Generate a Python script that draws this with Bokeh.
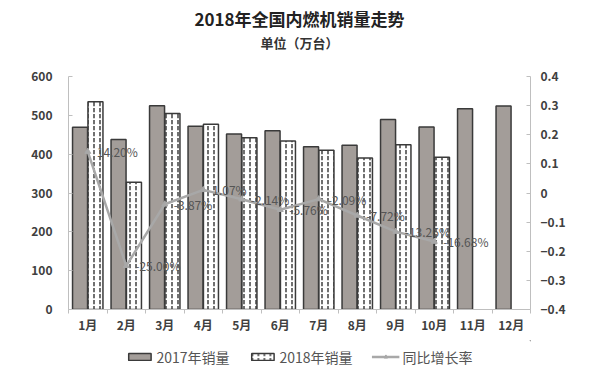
from bokeh.plotting import figure
from bokeh.layouts import column
from bokeh.models import (Range1d, LinearAxis, FixedTicker, Legend, LegendItem,
                          ColumnDataSource, Title)
from bokeh.core.properties import value
from bokeh.embed import file_html
from bokeh.resources import INLINE

months = ["1月", "2月", "3月", "4月", "5月", "6月", "7月", "8月", "9月", "10月", "11月", "12月"]
sales_2017 = [469, 438, 525, 472, 452, 460, 419, 423, 489, 470, 517, 524]
sales_2018 = [535, 328, 505, 477, 442, 434, 410, 390, 424, 392]
growth = [0.1420, -0.2500, -0.0387, 0.0107, -0.0214, -0.0576, -0.0209, -0.0772, -0.1326, -0.1668]
growth_labels = ["14.20%", "-25.00%", "-3.87%", "1.07%", "-2.14%", "-5.76%", "-2.09%",
                 "-7.72%", "-13.26%", "-16.68%"]
left_ticks = [0, 100, 200, 300, 400, 500, 600]
right_ticks = [-0.4, -0.3, -0.2, -0.1, 0, 0.1, 0.2, 0.3, 0.4]
series_names = ["2017年销量", "2018年销量", "同比增长率"]

CJK = "Noto Sans CJK SC"
TXT = "#404040"
GRAY = "#a39d99"
EDGE = "#3a3a3a"
LINE = "#a8a8a8"

xs = list(range(1, len(months) + 1))

p = figure(width=584, height=340, output_backend="svg", toolbar_location=None,
           x_range=Range1d(0.5, 12.5), y_range=Range1d(0, 600),
           min_border_left=68, min_border_right=54, min_border_top=76,
           min_border_bottom=31)
p.outline_line_color = None
p.xgrid.visible = False
p.ygrid.visible = False

# spacer between frame and subtitle, then subtitle, then main title
p.add_layout(Title(text=" ", align="center", text_font=CJK, text_font_size="1px",
                   standoff=22), "above")
p.add_layout(Title(text="单位（万台）", align="center", text_font=CJK,
                   text_font_size="13px", text_font_style="bold",
                   text_color="#333333", standoff=0), "above")
p.add_layout(Title(text="2018年全国内燃机销量走势", align="center", text_font=CJK,
                   text_font_size="17px", text_font_style="bold",
                   text_color="#222222", standoff=0), "above")

p.extra_y_ranges = {"rate": Range1d(-0.4, 0.4)}

bar17 = dict(fill_color=GRAY, line_color=EDGE, line_width=1.5)
bar18 = dict(fill_color="white", line_color=EDGE, line_width=1.5,
             hatch_pattern="vertical_dash", hatch_color="#222222",
             hatch_scale=6, hatch_weight=1.3)
line_style = dict(line_color=LINE, line_width=2.5)
mark_style = dict(marker="triangle", size=6, fill_color=LINE, line_color=LINE)

src17 = ColumnDataSource(dict(x=[x - 0.2 for x in xs], top=sales_2017))
src18 = ColumnDataSource(dict(x=[x + 0.2 for x in xs[:len(sales_2018)]], top=sales_2018))
p.vbar(x="x", top="top", width=0.39, source=src17, **bar17)
p.vbar(x="x", top="top", width=0.39, source=src18, **bar18)

gsrc = ColumnDataSource(dict(x=xs[:len(growth)], y=growth, lab=growth_labels))
p.line(x="x", y="y", source=gsrc, y_range_name="rate", **line_style)
p.scatter(x="x", y="y", source=gsrc, y_range_name="rate", **mark_style)
p.text(x="x", y="y", text="lab", source=gsrc, y_range_name="rate", x_offset=9,
       text_baseline="middle", text_align="left", text_font=value(CJK),
       text_font_size="12px", text_color="#555555")

# axes
xa = p.xaxis[0]
xa.ticker = FixedTicker(ticks=xs, minor_ticks=[x + 0.5 for x in [0] + xs])
xa.major_label_overrides = {x: m for x, m in zip(xs, months)}
xa.major_tick_out = 0
xa.major_tick_in = 0
xa.minor_tick_out = 4
xa.minor_tick_in = 0
xa.axis_line_color = "#bfbfbf"
xa.minor_tick_line_color = "#bfbfbf"
xa.major_label_text_font = CJK
xa.major_label_text_font_size = "12px"
xa.major_label_text_color = TXT
xa.major_label_text_font_style = "bold"
xa.major_label_standoff = 2

ya = p.yaxis[0]
ya.ticker = FixedTicker(ticks=left_ticks)
ya.major_tick_in = 4
ya.major_tick_out = 0
ya.minor_tick_line_color = None
ya.axis_line_color = "#bfbfbf"
ya.major_tick_line_color = "#bfbfbf"
ya.major_label_text_font = CJK
ya.major_label_text_font_size = "12px"
ya.major_label_text_color = TXT
ya.major_label_text_font_style = "bold"
ya.major_label_standoff = 16

ra = LinearAxis(y_range_name="rate", ticker=FixedTicker(ticks=right_ticks))
ra.major_label_overrides = {0: "0"}
ra.major_tick_in = 4
ra.major_tick_out = 0
ra.minor_tick_line_color = None
ra.axis_line_color = "#bfbfbf"
ra.major_tick_line_color = "#bfbfbf"
ra.major_label_text_font = CJK
ra.major_label_text_font_size = "12px"
ra.major_label_text_color = TXT
ra.major_label_text_font_style = "bold"
ra.major_label_standoff = 10
p.add_layout(ra, "right")

# legend strip: a small figure that holds only the legend; its sample glyphs
# sit outside its visible range so only the legend swatches show
lg = figure(width=584, height=33, output_backend="svg", toolbar_location=None,
            x_axis_type=None, y_axis_type=None, x_range=Range1d(-100, -99),
            y_range=Range1d(-100, -99), min_border=0)
lg.outline_line_color = None
lg.xgrid.visible = False
lg.ygrid.visible = False
g17 = lg.vbar(x=[xs[0]], top=[sales_2017[0]], width=0.4, **bar17)
g18 = lg.vbar(x=[xs[0]], top=[sales_2018[0]], width=0.4, **bar18)
gl = lg.line(x=xs[:2], y=growth[:2], **line_style)
gm = lg.scatter(x=xs[:2], y=growth[:2], **mark_style)
legend = Legend(items=[LegendItem(label=series_names[0], renderers=[g17]),
                       LegendItem(label=series_names[1], renderers=[g18]),
                       LegendItem(label=series_names[2], renderers=[gl, gm])],
                orientation="horizontal", location="center",
                label_text_font=CJK, label_text_font_size="14px",
                label_text_color="#555555", glyph_width=28, glyph_height=9,
                spacing=19, label_standoff=3, border_line_color=None,
                background_fill_alpha=0, margin=0, padding=2)
lg.add_layout(legend, "center")

layout = column(p, lg, spacing=0)
open("out.html", "w").write(file_html(layout, INLINE))
